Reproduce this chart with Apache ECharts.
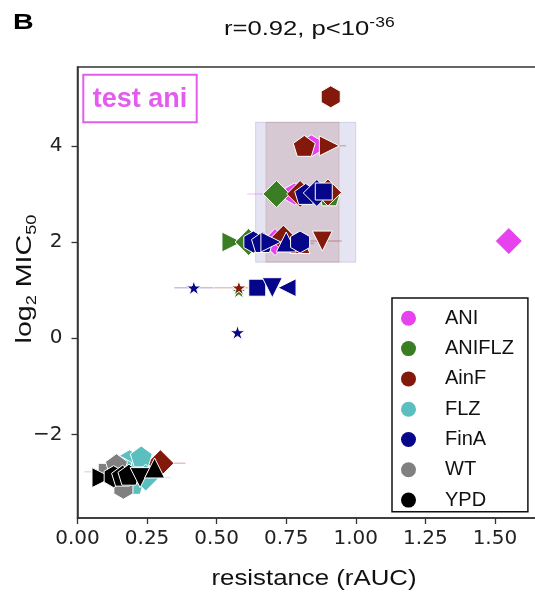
<!DOCTYPE html>
<html>
<head>
<meta charset="utf-8">
<script src="https://cdn.jsdelivr.net/npm/echarts@6/dist/echarts.min.js"></script>
<style>
html, body { margin: 0; padding: 0; background: #fff; }
#chart { width: 535px; height: 601px; }
</style>
</head>
<body>
<div id="chart"></div>
<script>
// groups in legend order
const groups = ['ANI', 'ANIFLZ', 'AinF', 'FLZ', 'FinA', 'WT', 'YPD']

// resistance (rAUC), log2 MIC50, rAUC error, strain marker
const aniX = [0.84, 0.78, 0.71, 1.55]
const aniY = [4.0, 3.0, 2.0, 2.02]
const aniErr = [0.05, 0.17, 0.05, 0]
const aniMk = ['h', 'h', 'D', 'D']

const aniflzX = [0.715, 0.905, 0.555, 0.615, 0.58]
const aniflzY = [3.0, 2.97, 2.0, 2.0, 0.98]
const aniflzErr = [0, 0, 0, 0, 0]
const aniflzMk = ['D', 'p', '>', 'D', '*']

const ainfX = [0.91, 0.815, 0.905, 0.80, 0.90, 0.74, 0.80, 0.88, 0.58, 0.298]
const ainfY = [5.02, 4.0, 4.0, 3.0, 3.03, 2.07, 1.97, 2.02, 1.05, -2.6]
const ainfErr = [0, 0.03, 0.06, 0, 0, 0, 0.05, 0.07, 0.09, 0.09]
const ainfMk = ['h', 'p', '>', 'D', 'D', 'D', '^', 'v', '*', 'D']

const flzX = [0.187, 0.229, 0.20, 0.245, 0.16]
const flzY = [-2.55, -2.46, -3.03, -2.9, -2.7]
const flzErr = [0, 0, 0, 0.09, 0]
const flzMk = ['h', 'p', 'p', 'D', 'h']

const finaX = [0.82, 0.86, 0.885, 0.632, 0.665, 0.695, 0.75, 0.80, 0.418, 0.646, 0.70, 0.753, 0.575]
const finaY = [3.0, 3.02, 3.05, 2.0, 2.0, 2.0, 2.0, 2.0, 1.05, 1.05, 1.05, 1.05, 0.12]
const finaErr = [0, 0, 0, 0, 0, 0, 0, 0, 0.07, 0, 0, 0, 0]
const finaMk = ['p', 'D', 's', 'h', 'p', '>', '^', 'h', '*', 's', 'v', '<', '*']

const wtX = [0.105, 0.165, 0.14]
const wtY = [-2.78, -3.12, -2.62]
const wtErr = [0.08, 0, 0]
const wtMk = ['s', 'h', 'p']

const ypdX = [0.088, 0.13, 0.162, 0.185, 0.225, 0.277]
const ypdY = [-2.9, -2.88, -2.86, -2.84, -2.9, -2.7]
const ypdErr = [0, 0, 0, 0, 0, 0]
const ypdMk = ['>', 'h', 'p', 'p', 'v', '^']

// shaded ranges
const shadeX = [0.64, 1.0]
const innerX = [0.677, 0.94]
const shadeY = [1.58, 4.49]

// ticks
const xTicks = [0, 0.25, 0.5, 0.75, 1.0, 1.25, 1.5]
const yTicks = [-2, 0, 2, 4]

const groupData = [
    { x: aniX, y: aniY, err: aniErr, mk: aniMk },
    { x: aniflzX, y: aniflzY, err: aniflzErr, mk: aniflzMk },
    { x: ainfX, y: ainfY, err: ainfErr, mk: ainfMk },
    { x: flzX, y: flzY, err: flzErr, mk: flzMk },
    { x: finaX, y: finaY, err: finaErr, mk: finaMk },
    { x: wtX, y: wtY, err: wtErr, mk: wtMk },
    { x: ypdX, y: ypdY, err: ypdErr, mk: ypdMk }
]

const colors = ['#e642ee', '#3b7d23', '#82190b', '#5bbfc0', '#06068a', '#808080', '#000000']

// marker shapes (matplotlib-like)
const markerPaths = {
    D: 'path://M50,0L100,50L50,100L0,50Z',
    s: 'path://M0,0L100,0L100,100L0,100Z',
    h: 'path://M43.3,0L86.6,25L86.6,75L43.3,100L0,75L0,25Z',
    p: 'path://M47.55,0L95.1,34.55L77.95,90.45L17.15,90.45L0,34.55Z',
    '^': 'path://M50,0L100,100L0,100Z',
    v: 'path://M0,0L100,0L50,100Z',
    '>': 'path://M0,0L100,50L0,100Z',
    '<': 'path://M100,0L0,50L100,100Z',
    '*': 'path://M50,0L61.23,34.55L97.55,34.55L68.16,55.9L79.39,90.45L50,69.1L20.61,90.45L31.84,55.9L2.45,34.55L38.77,34.55Z'
}
const markerSizes = { D: 27, s: 17, h: 22, p: 22, '^': 20, v: 20, '>': 20, '<': 18, '*': 15 }

const chart = echarts.init(document.getElementById('chart'))

const series = []

// shaded boxes
series.push({
    type: 'custom',
    z: 0,
    silent: true,
    data: [
        [shadeX[0], shadeX[1], shadeY[0], shadeY[1], 0],
        [innerX[0], innerX[1], shadeY[0], shadeY[1], 1]
    ],
    encode: { x: [0, 1], y: [2, 3] },
    renderItem: (params, api) => {
        const p0 = api.coord([api.value(0), api.value(3)])
        const p1 = api.coord([api.value(1), api.value(2)])
        const inner = api.value(4) === 1
        return {
            type: 'rect',
            shape: { x: p0[0], y: p0[1], width: p1[0] - p0[0], height: p1[1] - p0[1] },
            style: {
                fill: inner ? 'rgba(130,25,11,0.13)' : 'rgba(6,6,138,0.11)',
                stroke: inner ? 'rgba(130,25,11,0.12)' : 'rgba(6,6,138,0.12)',
                lineWidth: 1
            }
        }
    }
})

// error bars
groupData.forEach((g, gi) => {
    series.push({
        type: 'custom',
        z: 1,
        silent: true,
        data: g.x.map((v, i) => [v, g.y[i], g.err[i]]),
        encode: { x: 0, y: 1 },
        renderItem: (params, api) => {
            const e = api.value(2)
            if (!e) return
            const a = api.coord([api.value(0) - e, api.value(1)])
            const b = api.coord([api.value(0) + e, api.value(1)])
            return {
                type: 'line',
                shape: { x1: a[0], y1: a[1], x2: b[0], y2: b[1] },
                style: { stroke: colors[gi], lineWidth: 1.5, opacity: 0.25 }
            }
        }
    })
})

// points
groupData.forEach((g, gi) => {
    series.push({
        type: 'scatter',
        name: groups[gi],
        z: 2,
        symbolKeepAspect: true,
        itemStyle: { color: colors[gi], borderColor: '#fff', borderWidth: 1, opacity: 1 },
        emphasis: { disabled: true },
        data: g.x.map((v, i) => ({
            value: [v, g.y[i]],
            symbol: markerPaths[g.mk[i]],
            symbolSize: markerSizes[g.mk[i]]
        }))
    })
})

const axisColor = '#333'

const option = {
    animation: false,
    backgroundColor: '#fff',
    grid: {
        left: 77.5,
        top: 67,
        width: 467.5,
        height: 451,
        outerBoundsMode: 'none',
        containLabel: false,
        show: true,
        borderColor: axisColor,
        borderWidth: 1.5
    },
    xAxis: {
        type: 'value',
        min: 0,
        max: 1.68,
        splitLine: { show: false },
        axisLine: { show: true, onZero: false, lineStyle: { color: axisColor, width: 1.5 } },
        axisTick: { show: true, length: 6, customValues: xTicks, lineStyle: { color: axisColor, width: 1.3 } },
        axisLabel: {
            customValues: xTicks,
            formatter: v => v.toFixed(2),
            fontFamily: 'DejaVu Sans',
            fontSize: 20,
            color: '#222',
            margin: 11
        }
    },
    yAxis: {
        type: 'value',
        min: -3.74,
        max: 5.64,
        splitLine: { show: false },
        axisLine: { show: true, onZero: false, lineStyle: { color: axisColor, width: 1.5 } },
        axisTick: { show: true, length: 6, customValues: yTicks, lineStyle: { color: axisColor, width: 1.3 } },
        axisLabel: {
            customValues: yTicks,
            formatter: v => (v < 0 ? '\u2212' : '') + Math.abs(v),
            fontFamily: 'DejaVu Sans',
            fontSize: 20,
            color: '#222',
            margin: 15
        }
    },
    legend: {
        orient: 'vertical',
        left: 392,
        top: 298,
        selectedMode: false,
        data: groups.map((name, i) => ({ name, icon: 'circle', itemStyle: { color: colors[i], borderWidth: 0 } })),
        itemWidth: 15,
        itemHeight: 15,
        itemGap: 10.3,
        padding: [10.3, 14, 1.6, 9],
        borderColor: '#111',
        borderWidth: 1.5,
        borderRadius: 0,
        backgroundColor: '#fff',
        textStyle: {
            fontFamily: 'Liberation Sans',
            fontSize: 20,
            color: '#111',
            lineHeight: 20,
            padding: [0, 0, 0, 24]
        }
    },
    graphic: [
        {
            type: 'text',
            x: 13,
            y: 12,
            scaleX: 1.3,
            style: { text: 'B', font: 'bold 22px "Liberation Sans"', fill: '#000', verticalAlign: 'top' }
        },
        {
            type: 'text',
            x: 224,
            y: 16,
            scaleX: 1.25,
            style: {
                text: '{a|r=0.92, p<10}{b|-36}',
                fill: '#111',
                verticalAlign: 'top',
                rich: {
                    a: { fontSize: 20.5, fontFamily: 'Liberation Sans', lineHeight: 26, fill: '#111' },
                    b: { fontSize: 14, fontFamily: 'Liberation Sans', lineHeight: 14, verticalAlign: 'top', fill: '#111' }
                }
            }
        },
        {
            type: 'text',
            x: 314,
            y: 579,
            scaleX: 1.2,
            style: {
                text: 'resistance (rAUC)',
                font: '21.5px "Liberation Sans"',
                fill: '#111',
                align: 'center',
                verticalAlign: 'middle'
            }
        },
        {
            type: 'text',
            x: 25,
            y: 279,
            rotation: Math.PI / 2,
            scaleX: 1.3,
            style: {
                text: 'log{s|2} MIC{s|50}',
                fill: '#111',
                align: 'center',
                verticalAlign: 'middle',
                rich: {
                    s: { fontSize: 14, fontFamily: 'Liberation Sans', lineHeight: 14, verticalAlign: 'bottom', fill: '#111' }
                },
                fontSize: 22,
                fontFamily: 'Liberation Sans',
                lineHeight: 28
            }
        },
        {
            type: 'rect',
            shape: { x: 83.3, y: 74.7, width: 113.4, height: 47.6 },
            style: { fill: '#fff', stroke: '#e45cee', lineWidth: 2 },
            z: 10
        },
        {
            type: 'text',
            x: 140,
            y: 100,
            z: 11,
            style: {
                text: 'test ani',
                font: 'bold 27px "Liberation Sans"',
                fill: '#e45cee',
                align: 'center',
                verticalAlign: 'middle'
            }
        }
    ],
    series
}

chart.setOption(option)
</script>
</body>
</html>
